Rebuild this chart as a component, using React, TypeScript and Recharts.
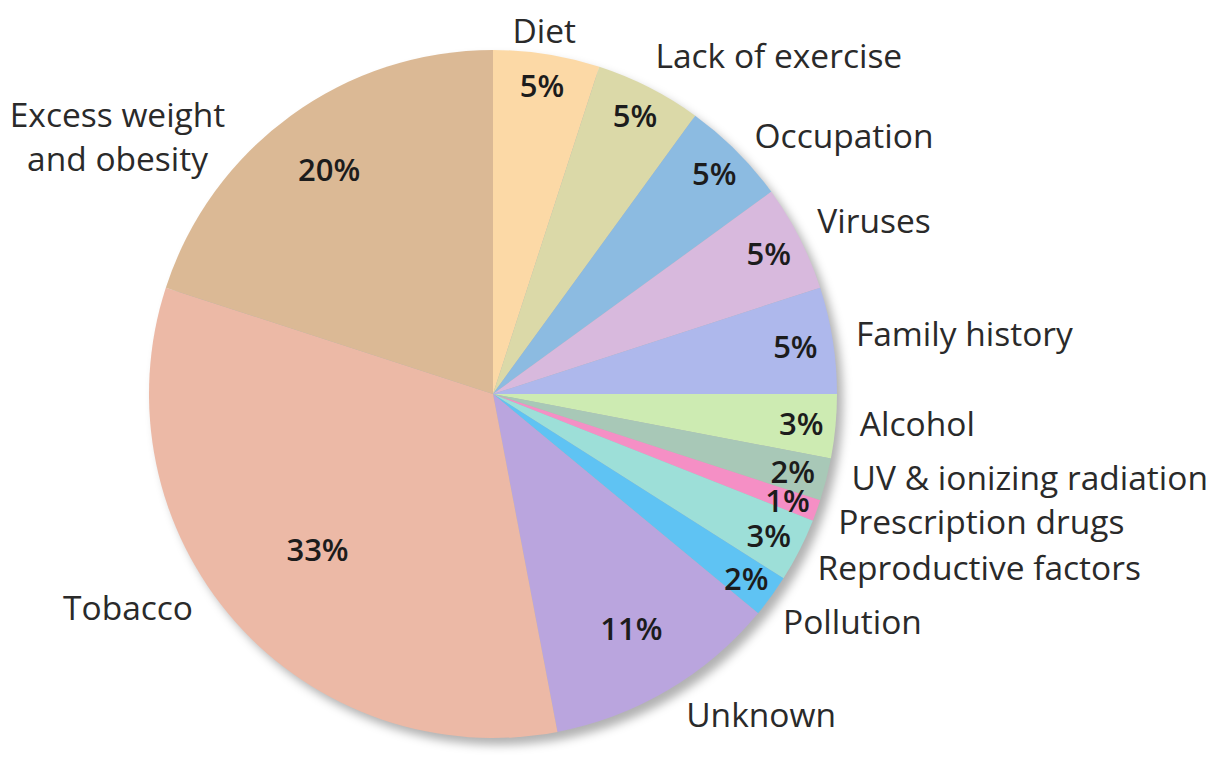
import { PieChart, Pie, Cell } from "recharts";

const CAUSES = [
  "Diet",
  "Lack of exercise",
  "Occupation",
  "Viruses",
  "Family history",
  "Alcohol",
  "UV & ionizing radiation",
  "Prescription drugs",
  "Reproductive factors",
  "Pollution",
  "Unknown",
  "Tobacco",
  "Excess weight and obesity"
];

const SHARES = [5, 5, 5, 5, 5, 3, 2, 1, 3, 2, 11, 33, 20];

const COLORS = [
  "#fcd9a6",
  "#dbd9a8",
  "#8cbbe1",
  "#d8b9dd",
  "#aeb8ec",
  "#cdebb2",
  "#a8c8b7",
  "#f58fc5",
  "#9ddfd8",
  "#5fc3f3",
  "#baa5de",
  "#ecb9a6",
  "#dbb995"
];

const SHADOW = [{ name: "shadow", value: 100 }];

const data = CAUSES.map((name, i) => ({ name, value: SHARES[i] }));

// label placement tweaks, per slice (same order as CAUSES)
// inner: radius factor for the % text, turn: degrees shift (clockwise) for the name
const LAYOUT = [
  { inner: 0.91, anchor: "middle", turn: -1 },
  { inner: 0.91, turn: -1.4, out: 32 },
  { inner: 0.91, turn: 0.3 },
  { inner: 0.9, turn: -1.2 },
  { inner: 0.89, turn: -0.5 },
  { inner: 0.9, turn: -0.9 },
  { inner: 0.9, turn: -1.4 },
  { inner: 0.91, turn: 0.4 },
  { inner: 0.9, turn: 1.1 },
  { inner: 0.91, turn: 2 },
  { inner: 0.79, turn: -0.5, out: 30 },
  { inner: 0.68, anchor: "end", turn: 6 },
  { inner: 0.81, anchor: "middle", turn: -9.5, dx: -113, wrap: 13 }
];

const RAD = Math.PI / 180;
const FONT = "'Open Sans', sans-serif";
const TEXT = "#2a2a2a";

function polar(cx: number, cy: number, r: number, deg: number) {
  return { x: cx + r * Math.cos(-deg * RAD), y: cy + r * Math.sin(-deg * RAD) };
}

function renderLabel(props: any) {
  const { cx, cy, midAngle, outerRadius, index, name, value } = props;
  const lay: any = LAYOUT[index];
  const p = polar(cx, cy, outerRadius * lay.inner, midAngle);
  const q = polar(cx, cy, outerRadius + (lay.out || 24), midAngle - (lay.turn || 0));
  const lines = lay.wrap ? [name.slice(0, lay.wrap), name.slice(lay.wrap + 1)] : [name];
  const x = q.x + (lay.dx || 0);
  return (
    <g>
      <text
        x={p.x}
        y={p.y}
        textAnchor="middle"
        dominantBaseline="central"
        fontFamily={FONT}
        fontSize={31}
        fontWeight={560}
        fill="#1c1c1c"
      >
        {value}%
      </text>
      <text
        x={x}
        y={q.y - ((lines.length - 1) * 44) / 2}
        textAnchor={lay.anchor || "start"}
        dominantBaseline="central"
        fontFamily={FONT}
        fontSize={33.5}
        fill={TEXT}
      >
        {lines.map((l: string, i: number) => (
          <tspan key={i} x={x} dy={i === 0 ? 0 : 44}>
            {l}
          </tspan>
        ))}
      </text>
    </g>
  );
}

export default function App() {
  return (
    <div style={{ position: "absolute", left: 0, top: 0, background: "#fff" }}>
      <PieChart width={1214} height={759} margin={{ top: 0, right: 0, bottom: 0, left: 0 }}>
        <defs>
          <filter id="soft" x="-10%" y="-10%" width="120%" height="120%">
            <feGaussianBlur stdDeviation="5" />
          </filter>
        </defs>
        <Pie
          data={SHADOW}
          dataKey="value"
          cx={499}
          cy={401}
          outerRadius={344}
          startAngle={90}
          endAngle={-270}
          stroke="none"
          isAnimationActive={false}
          label={false}
        >
          <Cell fill="#000" fillOpacity={0.3} filter="url(#soft)" />
        </Pie>
        <Pie
          data={data}
          dataKey="value"
          nameKey="name"
          cx={493}
          cy={394}
          outerRadius={344}
          startAngle={90}
          endAngle={-270}
          stroke="none"
          isAnimationActive={false}
          labelLine={false}
          label={renderLabel}
        >
          {data.map((d, i) => (
            <Cell key={d.name} fill={COLORS[i]} />
          ))}
        </Pie>
      </PieChart>
    </div>
  );
}
